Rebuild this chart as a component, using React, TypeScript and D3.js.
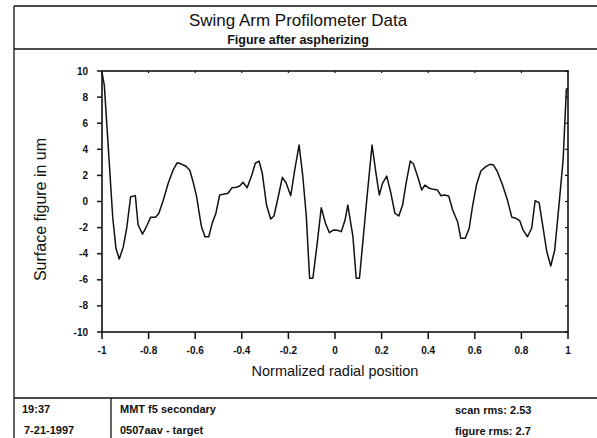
import React from 'react';
import * as d3 from 'd3';

// radial position (normalized) and surface figure (um)
const radialPos = [
  -1, -0.99, -0.954, -0.94, -0.926, -0.909, -0.894, -0.877, -0.857, -0.845,
  -0.826, -0.806, -0.791, -0.77, -0.756, -0.737, -0.716, -0.695, -0.677, -0.659,
  -0.64, -0.623, -0.609, -0.594, -0.58, -0.573, -0.558, -0.542, -0.526, -0.512,
  -0.495, -0.48, -0.459, -0.442, -0.423, -0.409, -0.395, -0.377, -0.357, -0.342,
  -0.326, -0.312, -0.294, -0.276, -0.262, -0.245, -0.226, -0.21, -0.19, -0.173,
  -0.154, -0.138, -0.123, -0.109, -0.095, -0.078, -0.059, -0.041, -0.024, -0.006,
  0.01, 0.027, 0.043, 0.055, 0.077, 0.091, 0.105, 0.134, 0.159, 0.176,
  0.19, 0.204, 0.222, 0.24, 0.257, 0.274, 0.29, 0.305, 0.323, 0.337,
  0.355, 0.372, 0.386, 0.405, 0.423, 0.44, 0.455, 0.469, 0.488, 0.505,
  0.526, 0.54, 0.559, 0.576, 0.59, 0.607, 0.626, 0.647, 0.665, 0.68,
  0.697, 0.719, 0.74, 0.759, 0.776, 0.793, 0.807, 0.826, 0.844, 0.859,
  0.876, 0.89, 0.909, 0.926, 0.943, 0.962, 0.979, 0.993, 1
];
const surfaceFig = [
  9.9, 8.9, -1.2, -3.6, -4.4, -3.5, -2.05, 0.37, 0.45, -1.8,
  -2.5, -1.8, -1.2, -1.2, -0.9, 0.1, 1.4, 2.4, 2.97, 2.87,
  2.7, 2.4, 1.5, 0.37, -1.2, -1.93, -2.7, -2.7, -1.6, -0.96,
  0.5, 0.55, 0.63, 1.06, 1.09, 1.19, 1.47, 1.06, 2.03, 2.93,
  3.1, 2.16, -0.27, -1.34, -1.11, 0.25, 1.85, 1.44, 0.44, 2.41,
  4.33, 1.9, -1.16, -5.88, -5.88, -3.46, -0.47, -1.67, -2.39, -2.18,
  -2.2, -2.31, -1.42, -0.27, -2.7, -5.88, -5.88, -0.3, 4.33, 2.16,
  0.5, 1.39, 1.95, 0.63, -0.9, -1.11, -0.27, 1.39, 3.1, 2.87,
  1.9, 0.88, 1.26, 1.01, 0.93, 0.88, 0.44, 0.5, 0.42, -0.65,
  -1.55, -2.82, -2.82, -2.05, -0.4, 1.26, 2.34, 2.67, 2.85, 2.8,
  2.28, 1.26, 0.11, -1.21, -1.29, -1.47, -2.18, -2.7, -2.05, 0.06,
  -0.09, -1.67, -3.85, -4.94, -3.72, -0.14, 3.18, 8.6, 8.67
];

const xTicks = [-1, -0.8, -0.6, -0.4, -0.2, 0, 0.2, 0.4, 0.6, 0.8, 1];
const yTicks = [-10, -8, -6, -4, -2, 0, 2, 4, 6, 8, 10];

const title = 'Swing Arm Profilometer Data';
const subtitle = 'Figure after aspherizing';
const footerLeft = ['19:37', '7-21-1997'];
const footerMid = ['MMT f5 secondary', '0507aav - target'];
const footerRight = ['scan rms: 2.53', 'figure rms: 2.7'];

const W = 597;
const H = 438;
const font = '"Liberation Sans", Arial, Helvetica, sans-serif';

export default function App() {
  const left = 102, right = 568, top = 71, bottom = 332;

  const x = d3.scaleLinear().domain([-1, 1]).range([left, right]);
  const y = d3.scaleLinear().domain([-10, 10]).range([bottom, top]);

  const pts: [number, number][] = radialPos.map((r, i) => [r, surfaceFig[i]]);
  const line = d3.line<[number, number]>()
    .x(d => x(d[0]))
    .y(d => y(d[1]));

  const fmt = (v: number) => (v === 0 ? '0' : String(v));

  return (
    <svg width={W} height={H} style={{ position: 'absolute', left: 0, top: 0, background: '#fff' }}
      fontFamily={font}>
      {/* page frame */}
      <g stroke="#111" strokeWidth={1.3} fill="none">
        <line x1={14} y1={6} x2={W} y2={6} />
        <line x1={14} y1={6} x2={14} y2={H} />
        <line x1={14} y1={49} x2={W} y2={49} />
        <line x1={14} y1={398} x2={W} y2={398} />
        <line x1={111} y1={398} x2={111} y2={H} />
      </g>

      <text x={298} y={26} textAnchor="middle" fontSize={17} fill="#111">{title}</text>
      <text x={298} y={44} textAnchor="middle" fontSize={12.5} fontWeight="bold" fill="#111">{subtitle}</text>

      {/* plot box */}
      <rect x={left} y={top} width={right - left} height={bottom - top} fill="none" stroke="#111" strokeWidth={1.6} />

      {/* x ticks */}
      {xTicks.map(t => (
        <g key={'x' + t}>
          <line x1={x(t)} x2={x(t)} y1={bottom} y2={bottom + 7} stroke="#111" strokeWidth={1.5} />
          <line x1={x(t)} x2={x(t)} y1={top} y2={top + 2} stroke="#111" strokeWidth={1.2} />
          <text x={x(t)} y={bottom + 22} textAnchor="middle" fontSize={10} fontWeight="bold" fill="#111">{fmt(t)}</text>
        </g>
      ))}

      {/* y ticks */}
      {yTicks.map(t => (
        <g key={'y' + t}>
          <line x1={left - 5} x2={left} y1={y(t)} y2={y(t)} stroke="#111" strokeWidth={1.5} />
          <line x1={right - 3} x2={right} y1={y(t)} y2={y(t)} stroke="#111" strokeWidth={1.2} />
          <text x={left - 14} y={y(t) + 3.5} textAnchor="end" fontSize={10} fontWeight="bold" fill="#111">{fmt(t)}</text>
        </g>
      ))}

      <path d={line(pts) || ''} fill="none" stroke="#111" strokeWidth={1.5} strokeLinejoin="round" />

      <text x={(left + right) / 2} y={376} textAnchor="middle" fontSize={14.5} fill="#111">Normalized radial position</text>
      <text transform={`translate(46,${(top + bottom) / 2 + 8}) rotate(-90)`} textAnchor="middle" fontSize={16} fill="#111">
        Surface figure in um
      </text>

      {/* footer */}
      {footerLeft.map((s, i) => (
        <text key={'fl' + i} x={i === 0 ? 22 : 24} y={413 + i * 21} fontSize={11} fontWeight="bold" fill="#111">{s}</text>
      ))}
      {footerMid.map((s, i) => (
        <text key={'fm' + i} x={120} y={413 + i * 21} fontSize={11} fontWeight="bold" fill="#111">{s}</text>
      ))}
      {footerRight.map((s, i) => (
        <text key={'fr' + i} x={455} y={414 + i * 21} fontSize={11} fontWeight="bold" fill="#111">{s}</text>
      ))}
    </svg>
  );
}
